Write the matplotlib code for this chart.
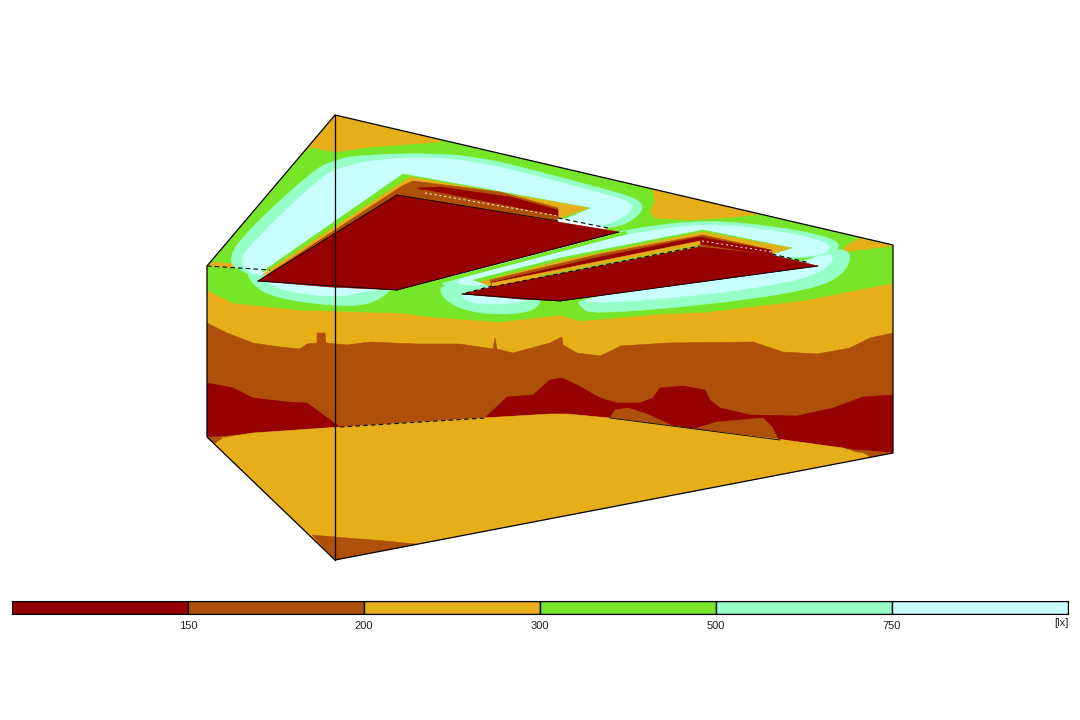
import matplotlib
matplotlib.use('Agg')
import matplotlib.pyplot as plt
import matplotlib.patches as patches
from matplotlib.path import Path

# false colour classes
levels = ['150', '200', '300', '500', '750']
unit = '[lx]'
RED, BROWN, GOLD, GREEN, MINT, CYAN = '#960000', '#AF500A', '#E6AF19', '#78E628', '#96FFC8', '#C8FFFF'
class_colors = [RED, BROWN, GOLD, GREEN, MINT, CYAN]

# outlines, in image pixels
room = [(335, 115), (893, 245), (893, 453), (335, 560), (207, 437), (207, 266)]

ceil_gold_corner = [(335, 115), (300, 155), (311, 147), (335, 152), (370, 147), (440, 142), (440, 130)]
green_zone = [(207, 266), (335, 115), (893, 245), (893, 283), (857, 290), (807, 300), (707, 312), (660, 314),
              (580, 321), (560, 315), (500, 322), (433, 317), (400, 313), (300, 310), (233, 303), (207, 290)]
ceil_gold_right = [(652, 188), (762, 214), (735, 217), (690, 220), (655, 218), (650, 212), (655, 202)]
ceil_gold_right2 = [(893, 245), (860, 238), (846, 246), (842, 252), (893, 246)]
wall_gold_left = [(207, 266), (213, 262), (243, 265), (270, 270)]

# ring round the first luminaire
lum1_mint = [(228, 262), (240, 238), (313, 170), (335, 160), (360, 155), (433, 153), (483, 158), (533, 170),
             (600, 188), (636, 198), (644, 207), (636, 218), (615, 229), (558, 226), (400, 260), (260, 280), (240, 270)]
lum1_cyan = [(238, 263), (250, 245), (320, 177), (345, 166), (380, 159), (433, 157), (483, 163), (533, 175),
             (600, 193), (626, 200), (634, 207), (625, 216), (606, 226), (558, 226), (400, 260), (260, 280)]
lum1_green = [(262, 272), (403, 174), (590, 208), (566, 218), (558, 222), (397, 230)]
lum1_gold = [(262, 275), (410, 177), (588, 208), (560, 218), (558, 224), (397, 230)]
lum1_brown = [(262, 278), (402, 186), (413, 181), (500, 192), (558, 208), (558, 224), (397, 230)]
lum1_fringe = [(417, 188), (440, 187), (510, 197), (558, 210), (558, 218), (430, 192)]
lum1_strip = [(400, 193), (425, 190), (558, 216), (558, 220), (425, 195)]
lum1_red = [(258, 281), (397, 195), (558, 222), (619, 232), (397, 290), (330, 287)]
lum1_sliver = [(558, 218), (608, 228), (604, 229), (558, 222)]
lum1_wall_mint = [(246, 268), (252, 285), (275, 298), (333, 306), (370, 305), (392, 290), (397, 280), (258, 272)]
lum1_wall_cyan = [(256, 278), (290, 293), (340, 297), (362, 292), (388, 289), (330, 283)]
lum1_edge = [(405, 291), (625, 233)]

# ring round the second luminaire
lum2_mint = [(438, 283), (450, 276), (540, 247), (640, 227), (707, 220), (773, 226), (826, 236), (842, 245),
             (830, 255), (793, 259), (772, 257), (700, 250), (492, 290), (462, 294)]
lum2_cyan = [(448, 282), (540, 251), (640, 232), (707, 223), (773, 230), (822, 240), (832, 248), (822, 255),
             (793, 257), (772, 256), (700, 250), (487, 284), (470, 286)]
lum2_green = [(473, 280), (560, 258), (703, 230), (792, 248), (772, 254), (700, 250), (492, 286)]
lum2_gold = [(480, 282), (560, 261), (703, 232), (790, 248), (772, 254), (700, 250), (492, 287)]
lum2_brown = [(490, 280), (600, 254), (703, 235), (772, 250), (772, 254), (700, 250), (492, 287)]
lum2_fringe = [(493, 282), (600, 257), (700, 237), (770, 250), (772, 255), (700, 244), (492, 284)]
lum2_strip_gold = [(492, 283), (700, 241), (700, 247), (492, 288)]
lum2_strip_green = [(540, 276), (700, 245), (700, 247), (540, 279)]
lum2_red = [(462, 294), (492, 287), (700, 247), (772, 255), (818, 266), (560, 301), (520, 299)]
lum2_wall_mint_l = [(438, 285), (445, 302), (477, 314), (527, 314), (544, 301), (530, 294), (462, 288)]
lum2_wall_cyan_l = [(458, 293), (471, 304), (507, 304), (533, 300), (500, 294)]
lum2_wall_mint_r = [(576, 298), (581, 308), (593, 314), (707, 305), (810, 290), (844, 275), (853, 252), (832, 248),
                    (818, 260)]
lum2_wall_cyan_r = [(578, 298), (595, 304), (707, 295), (792, 282), (826, 270), (836, 254), (810, 253), (818, 262)]

# walls
wall_brown = [(207, 323), (227, 333), (253, 343), (280, 347), (300, 349), (307, 344), (317, 343), (317, 333),
              (325, 333), (326, 343), (347, 345), (370, 342), (417, 344), (460, 344), (493, 349), (495, 338),
              (497, 349), (513, 353), (550, 343), (562, 337), (563, 345), (577, 353), (600, 356), (613, 350),
              (620, 346), (667, 343), (753, 342), (783, 352), (817, 354), (850, 348), (870, 338), (893, 333),
              (893, 453), (207, 437)]
wall_red_left = [(207, 383), (233, 388), (253, 398), (287, 402), (307, 403), (340, 427), (253, 433), (220, 436),
                 (207, 437)]
wall_red_mid = [(485, 418), (507, 397), (533, 395), (550, 380), (562, 378), (577, 385), (600, 398), (617, 403),
                (640, 403), (653, 398), (660, 388), (683, 386), (705, 390), (710, 400), (720, 408), (750, 415),
                (797, 416), (833, 408), (863, 397), (893, 395), (893, 453), (860, 450), (777, 439), (680, 427),
                (610, 418), (550, 414)]
wall_island1 = [(610, 418), (615, 410), (628, 408), (647, 414), (673, 426), (680, 427)]
wall_island2 = [(697, 428), (717, 422), (763, 418), (772, 427), (778, 439)]

# floor
floor_gold = [(214, 443), (222, 438), (253, 433), (340, 427), (483, 418), (550, 414), (567, 414), (610, 418),
              (680, 427), (777, 439), (843, 448), (870, 457), (400, 548), (335, 560)]
floor_brown = [(312, 535), (335, 537), (385, 541), (425, 545), (335, 560)]
corner_brown_left = [(207, 437), (222, 438), (214, 444)]
corner_brown_right = [(860, 450), (893, 453), (870, 457)]

# dashed lines: (start, end)
dashed_black = [[(207, 266), (270, 270)], [(558, 218), (608, 228)], [(466, 293), (492, 286)],
                [(772, 254), (810, 263)], [(492, 287), (700, 246)], [(340, 427), (485, 418)]]
dashed_white = [[(425, 193), (558, 216)], [(702, 241), (772, 252)]]
solid_lines = [[(258, 281), (397, 195)], [(397, 195), (558, 221)], [(397, 290), (619, 232)],
               [(258, 281), (397, 290)], [(462, 294), (560, 301)], [(560, 301), (818, 266)],
               [(610, 418), (780, 440)]]

fig = plt.figure(figsize=(10.8, 7.2), dpi=100, facecolor='white')
ax = fig.add_axes([0, 0, 1, 1])
ax.set_xlim(0, 1080)
ax.set_ylim(720, 0)
ax.axis('off')

clip = patches.Polygon(room, closed=True, transform=ax.transData, fill=False, edgecolor='none')
ax.add_patch(clip)


def area(points, color, smooth=False):
    if smooth:
        # quadratic curves through the edge midpoints, rounds the corners of the light bands
        n = len(points)
        mids = [((points[i][0] + points[(i + 1) % n][0]) / 2, (points[i][1] + points[(i + 1) % n][1]) / 2)
                for i in range(n)]
        verts = [mids[-1]]
        codes = [Path.MOVETO]
        for i in range(n):
            verts += [points[i], mids[i]]
            codes += [Path.CURVE3, Path.CURVE3]
        p = patches.PathPatch(Path(verts, codes), facecolor=color, edgecolor=color, linewidth=0.4)
    else:
        p = patches.Polygon(points, closed=True, facecolor=color, edgecolor=color, linewidth=0.4)
    ax.add_patch(p)
    p.set_clip_path(clip)


def line(pair, color, style='-', width=1.0):
    xs = [pair[0][0], pair[1][0]]
    ys = [pair[0][1], pair[1][1]]
    ax.plot(xs, ys, color=color, linestyle=style, linewidth=width)


area(room, GOLD)
area(green_zone, GREEN)
area(ceil_gold_corner, GOLD)
area(ceil_gold_right, GOLD)
area(ceil_gold_right2, GOLD)
area(wall_gold_left, GOLD)

area(lum2_wall_mint_l, MINT, smooth=True)
area(lum2_wall_cyan_l, CYAN, smooth=True)
area(lum2_wall_mint_r, MINT, smooth=True)
area(lum2_wall_cyan_r, CYAN, smooth=True)
area(lum1_wall_mint, MINT, smooth=True)
area(lum1_wall_cyan, CYAN, smooth=True)

area(lum1_mint, MINT, smooth=True)
area(lum1_cyan, CYAN, smooth=True)
area(lum1_green, GREEN)
area(lum1_gold, GOLD)
area(lum1_brown, BROWN)
area(lum1_fringe, RED)
area(lum1_strip, BROWN)
area(lum1_sliver, 'white')

# second ring goes under the first luminaire's red face
area(lum2_mint, MINT, smooth=True)
area(lum2_cyan, CYAN, smooth=True)
line(lum1_edge, GREEN, width=2.5)
area(lum1_red, RED)
area(lum2_green, GREEN)
area(lum2_gold, GOLD)
area(lum2_brown, BROWN)
area(lum2_fringe, RED)
area(lum2_strip_gold, GOLD)
area(lum2_strip_green, '#9CC832')
area(lum2_red, RED)

area(wall_brown, BROWN)
area(wall_red_left, RED)
area(wall_red_mid, RED)
area(wall_island1, BROWN)
area(wall_island2, BROWN)
area(floor_gold, GOLD)
area(floor_brown, BROWN)
area(corner_brown_left, BROWN)
area(corner_brown_right, BROWN)

for seg in solid_lines:
    line(seg, 'black', width=0.6)
for seg in dashed_black:
    line(seg, 'black', style=(0, (4, 3)), width=0.8)
for seg in dashed_white:
    line(seg, 'white', style=(0, (2, 3)), width=0.7)

# room edges and the near vertical corner
outline = patches.Polygon(room, closed=True, fill=False, edgecolor='black', linewidth=0.9)
ax.add_patch(outline)
line([room[0], room[3]], 'black', width=0.9)

# colour scale
cax = fig.add_axes([12 / 1080, 1 - 614 / 720, 1056 / 1080, 13 / 720])
cax.bar(range(len(class_colors)), [1] * len(class_colors), width=1.0, align='edge', color=class_colors,
        edgecolor='black', linewidth=1.0)
cax.set_xlim(0, len(class_colors))
cax.set_ylim(0, 1)
cax.set_yticks([])
cax.set_xticks(range(1, len(levels) + 1))
cax.set_xticklabels(levels, family='Liberation Sans', fontsize=8, color='#222222')
cax.tick_params(axis='x', length=0, pad=5)
for s in cax.spines.values():
    s.set_linewidth(0.8)
ax.text(1061, 622.5, unit, family='Liberation Sans', fontsize=8, color='#222222', ha='center', va='center')

fig.savefig('out.png', dpi=100)
